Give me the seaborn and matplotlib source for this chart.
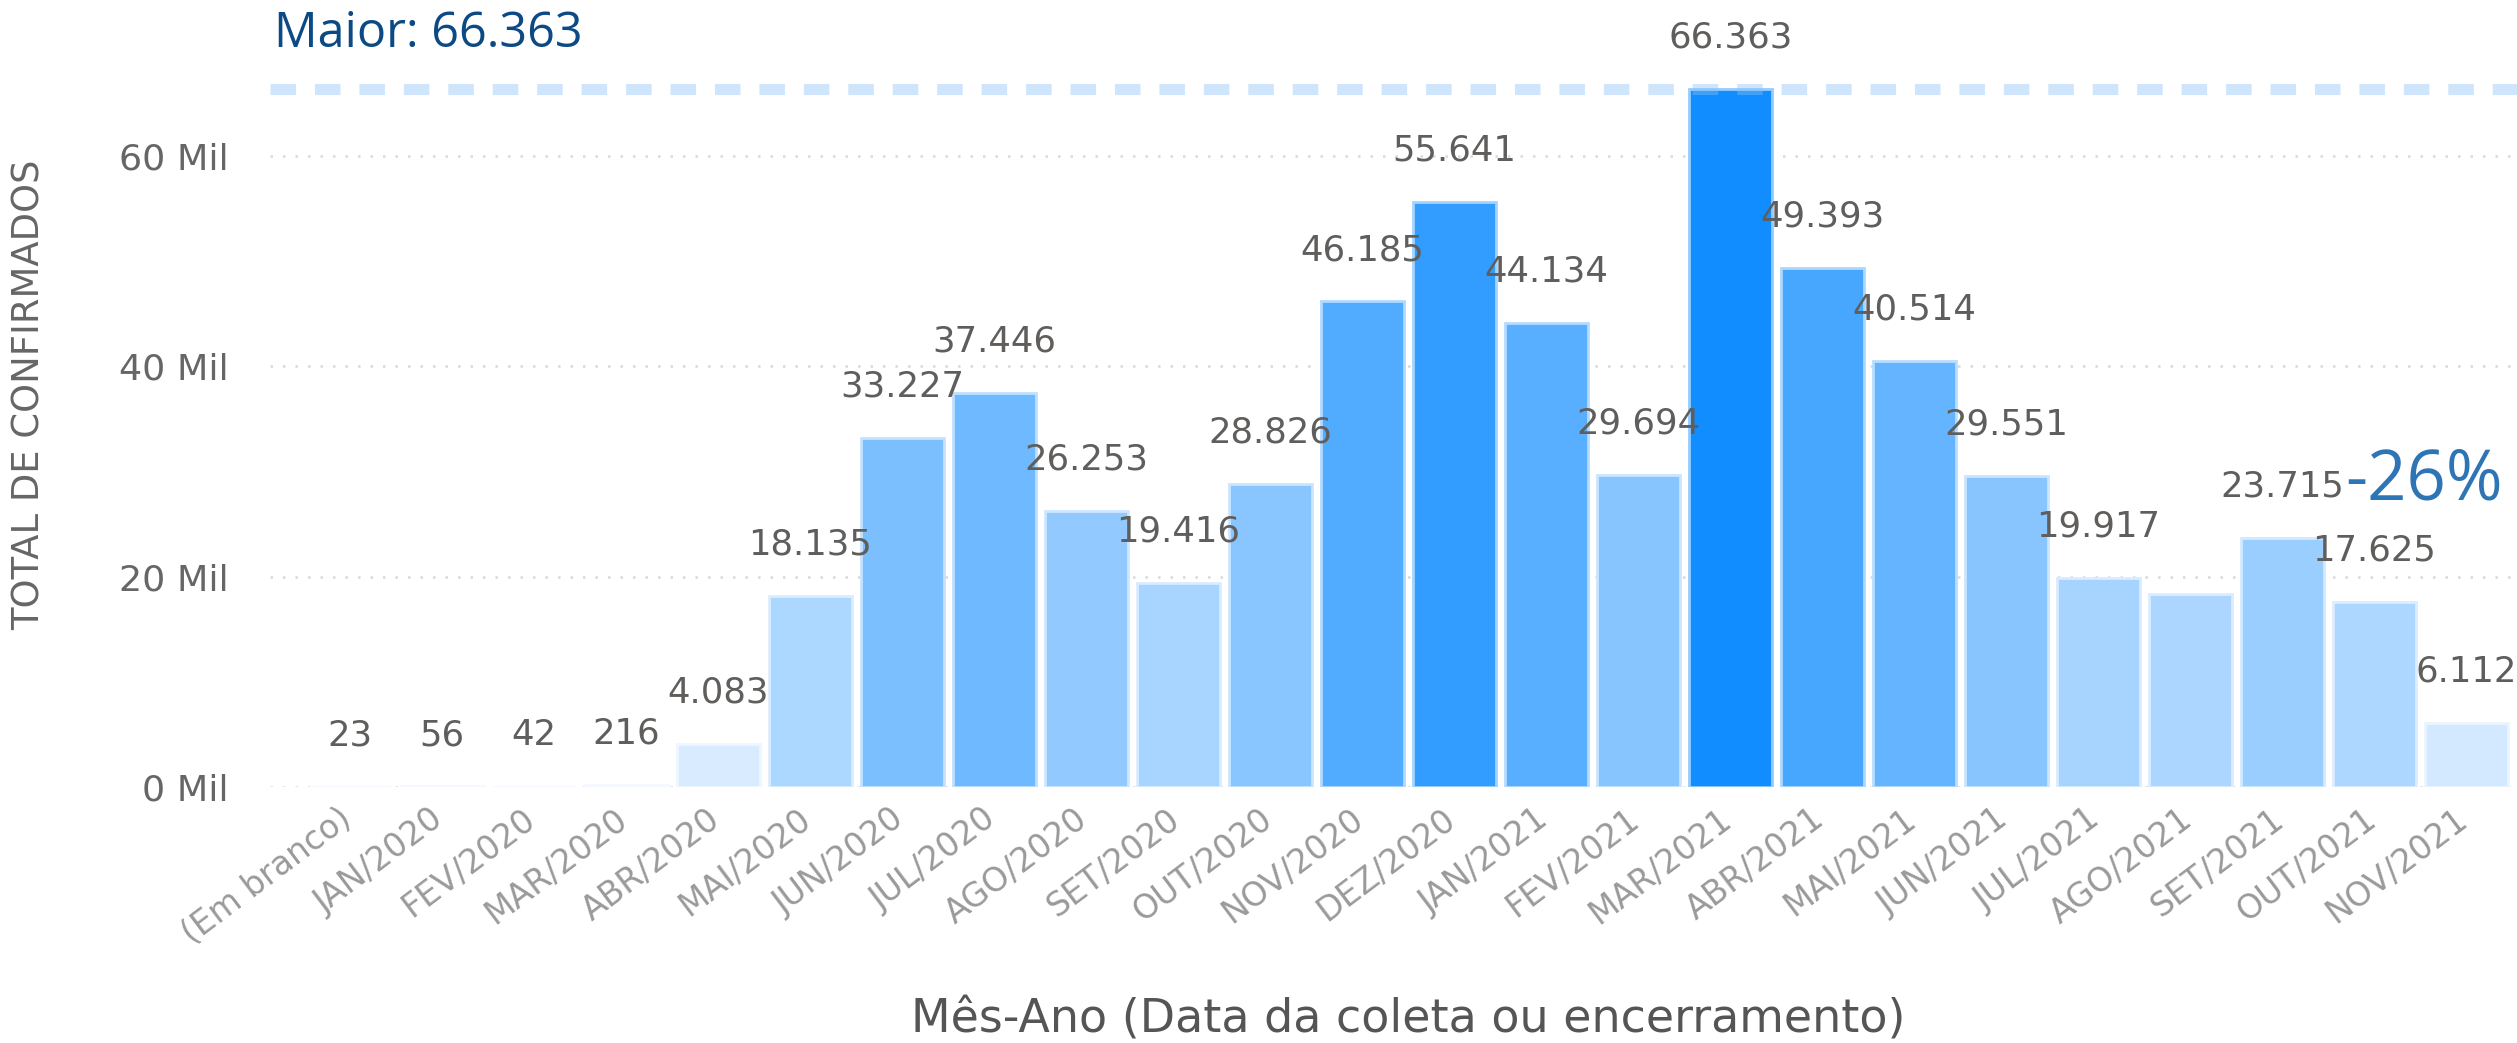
import matplotlib
matplotlib.use("Agg")
import matplotlib.pyplot as plt
import matplotlib.transforms as mtransforms
from matplotlib.colors import LinearSegmentedColormap, to_hex, to_rgb
from matplotlib.ticker import FuncFormatter
import seaborn as sns
import pandas as pd

meses = ['(Em branco)', 'JAN/2020', 'FEV/2020', 'MAR/2020', 'ABR/2020', 'MAI/2020',
         'JUN/2020', 'JUL/2020', 'AGO/2020', 'SET/2020', 'OUT/2020', 'NOV/2020',
         'DEZ/2020', 'JAN/2021', 'FEV/2021', 'MAR/2021', 'ABR/2021', 'MAI/2021',
         'JUN/2021', 'JUL/2021', 'AGO/2021', 'SET/2021', 'OUT/2021', 'NOV/2021']
confirmados = [23, 56, 42, 216, 4083, 18135, 33227, 37446, 26253, 19416, 28826, 46185,
               55641, 44134, 29694, 66363, 49393, 40514, 29551, 19917, 18400, 23715,
               17625, 6112]
sem_rotulo = ['AGO/2021']  # rotulo escondido no painel original
y_ticks = [0, 20000, 40000, 60000]
variacao = '-26%'

maior = max(confirmados)
df = pd.DataFrame({'Mes': meses, 'Confirmados': confirmados})

W, H = 2517, 1043
sns.set_theme(style='white')
plt.rcParams['font.family'] = ['DejaVu Sans']

fig = plt.figure(figsize=(W / 100, H / 100), dpi=100)
ax = fig.add_axes([270 / W, 1 - 787 / H, 1 - 270 / W, 757 / H])
renderer = fig.canvas.get_renderer()


def tamanho_para(texto, largura_px, familia='DejaVu Sans'):
    # acha o tamanho de fonte que da a largura desejada em pixels
    t = fig.text(0, 0, texto, fontsize=20, family=familia)
    bb = t.get_window_extent(renderer)
    t.remove()
    return 20 * largura_px / bb.width


# gradiente de cor pelo valor (estilo Power BI)
cmap = LinearSegmentedColormap.from_list('pbi', ['#E6F2FF', '#118DFF'])
norm = plt.Normalize(0, maior)
palette = {m: to_hex(cmap(norm(v))) for m, v in zip(meses, confirmados)}

sns.barplot(data=df, x='Mes', y='Confirmados', hue='Mes', palette=palette,
            legend=False, width=0.9, saturation=1, ax=ax, zorder=2)

for p in ax.patches:
    r, g, b = to_rgb(p.get_facecolor())
    p.set_edgecolor((r + (1 - r) * 0.55, g + (1 - g) * 0.55, b + (1 - b) * 0.55))
    p.set_linewidth(2)

# rotulos de dados
fs_rot = tamanho_para('23.715', 124)
for i, (m, v) in enumerate(zip(meses, confirmados)):
    if m in sem_rotulo:
        continue
    ax.annotate(f"{v:,}".replace(',', '.'), (i, v), xytext=(0, 37),
                textcoords='offset points', ha='center', va='center',
                fontsize=fs_rot, color='#605E5C', zorder=5)

# linha do maior valor
ax.axhline(maior, color='#88C0F5', alpha=0.4, linewidth=8,
           linestyle=(0, (2.3, 1.7)), zorder=4)
txt_maior = f"Maior: {maior:,}".replace(',', '.')
fig.text(274 / W, 1 - 34 / H, txt_maior,
         fontsize=tamanho_para(txt_maior, 309, 'Open Sans'), color='#0B4A85',
         va='center', ha='left', family='Open Sans')

fig.text(2345 / W, 1 - 482 / H, variacao,
         fontsize=tamanho_para(variacao, 158, 'Open Sans'), color='#2E75B6',
         va='center', ha='left', family='Open Sans')

ax.set_ylim(0, 72000)
ax.set_xlim(-0.87, 23.55)
ax.set_yticks(y_ticks)
ax.yaxis.set_major_formatter(FuncFormatter(lambda v, _: f"{int(v / 1000)} Mil"))
ax.yaxis.grid(True, linestyle=(0, (1, 4)), color='#D9D9D9', linewidth=1.8)
ax.set_axisbelow(True)
sns.despine(ax=ax, left=True, bottom=True)
ax.tick_params(axis='y', length=0, pad=30, labelsize=tamanho_para('60 Mil', 110),
               labelcolor='#666666')
ax.tick_params(axis='x', length=0, pad=11, labelsize=tamanho_para('FEV/2020', 158),
               labelcolor='#9A9A9A')

desloc = mtransforms.ScaledTranslation(-0.12, 0, fig.dpi_scale_trans)
for lbl in ax.get_xticklabels():
    lbl.set_rotation(37)
    lbl.set_ha('right')
    lbl.set_va('top')
    lbl.set_rotation_mode('anchor')
    lbl.set_transform(lbl.get_transform() + desloc)

ax.set_xlabel('')
ax.set_ylabel('')
titulo_x = 'Mês-Ano (Data da coleta ou encerramento)'
fig.text(1408 / W, 1 - 1020 / H, titulo_x, fontsize=tamanho_para(titulo_x, 993),
         color='#555555', ha='center', va='center')
titulo_y = 'TOTAL DE CONFIRMADOS'
fig.text(29 / W, 1 - 395 / H, titulo_y, fontsize=tamanho_para(titulo_y, 469),
         color='#666666', ha='center', va='center', rotation=90)

fig.savefig('out.png', dpi=100)
